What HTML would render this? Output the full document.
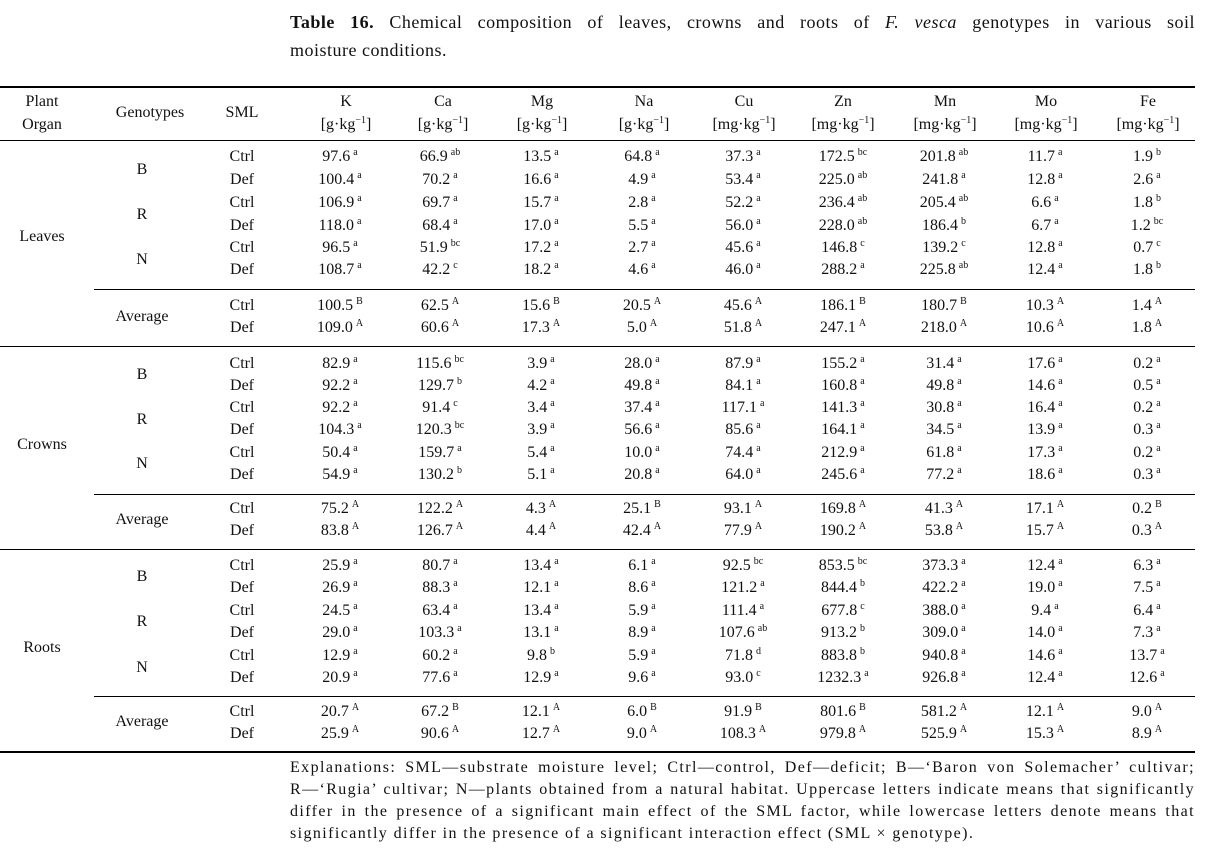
<!DOCTYPE html>
<html><head><meta charset="utf-8"><style>
body{margin:0;width:1213px;height:849px;background:#fff;position:relative;overflow:hidden;font-family:"Liberation Serif",serif;color:#111;font-size:16px}
.t{position:absolute;left:290px;width:905px;font-size:18px;letter-spacing:0.5px;line-height:28px;white-space:nowrap}
.j{text-align:justify;text-align-last:justify}
.hl{position:absolute;background:#000;height:1px}
.r{position:absolute;left:0;width:1213px;height:22px;line-height:22px}
.r span{position:absolute;transform:translateX(-50%);white-space:nowrap;top:0}
sup{font-size:10px;line-height:0;vertical-align:6px;margin-left:3px}
.s{left:242px}.k{left:340px}.ca{left:440px}.mg{left:541px}.na{left:642px}.cu{left:743px}.zn{left:843px}.mn{left:944px}.mo{left:1045px}.fe{left:1147px}
.g{left:142px}.o{left:42px}
.ex{position:absolute;left:290px;width:905px;font-size:16px;letter-spacing:1.4px;line-height:22px;white-space:nowrap}
.h{position:absolute;text-align:center;line-height:23px;transform:translateX(-50%);white-space:nowrap}
</style></head><body>
<div class="t j" style="top:8px"><b>Table 16.</b> Chemical composition of leaves, crowns and roots of <i>F. vesca</i> genotypes in various soil</div>
<div class="t" style="top:36px">moisture conditions.</div>

<div class="hl" style="top:86px;left:0;width:1195px;height:2px"></div>
<div class="h" style="left:42px;top:90px">Plant<br>Organ</div>
<div class="h" style="left:150px;top:101px">Genotypes</div>
<div class="h" style="left:242px;top:101px">SML</div>
<div class="h" style="left:346px;top:90px">K<br>[g·kg<sup style="margin:0">−1</sup>]</div>
<div class="h" style="left:443px;top:90px">Ca<br>[g·kg<sup style="margin:0">−1</sup>]</div>
<div class="h" style="left:542px;top:90px">Mg<br>[g·kg<sup style="margin:0">−1</sup>]</div>
<div class="h" style="left:644px;top:90px">Na<br>[g·kg<sup style="margin:0">−1</sup>]</div>
<div class="h" style="left:744px;top:90px">Cu<br>[mg·kg<sup style="margin:0">−1</sup>]</div>
<div class="h" style="left:843px;top:90px">Zn<br>[mg·kg<sup style="margin:0">−1</sup>]</div>
<div class="h" style="left:945px;top:90px">Mn<br>[mg·kg<sup style="margin:0">−1</sup>]</div>
<div class="h" style="left:1046px;top:90px">Mo<br>[mg·kg<sup style="margin:0">−1</sup>]</div>
<div class="h" style="left:1148px;top:90px">Fe<br>[mg·kg<sup style="margin:0">−1</sup>]</div>
<div class="hl" style="top:140px;left:0;width:1195px"></div>

<!-- Leaves -->
<div class="r" style="top:226px"><span class="o">Leaves</span></div>
<div class="r" style="top:159px"><span class="g">B</span></div>
<div class="r" style="top:204px"><span class="g">R</span></div>
<div class="r" style="top:249px"><span class="g">N</span></div>
<div class="r" style="top:146px"><span class="s">Ctrl</span><span class="k">97.6<sup>a</sup></span><span class="ca">66.9<sup>ab</sup></span><span class="mg">13.5<sup>a</sup></span><span class="na">64.8<sup>a</sup></span><span class="cu">37.3<sup>a</sup></span><span class="zn">172.5<sup>bc</sup></span><span class="mn">201.8<sup>ab</sup></span><span class="mo">11.7<sup>a</sup></span><span class="fe">1.9<sup>b</sup></span></div>
<div class="r" style="top:169px"><span class="s">Def</span><span class="k">100.4<sup>a</sup></span><span class="ca">70.2<sup>a</sup></span><span class="mg">16.6<sup>a</sup></span><span class="na">4.9<sup>a</sup></span><span class="cu">53.4<sup>a</sup></span><span class="zn">225.0<sup>ab</sup></span><span class="mn">241.8<sup>a</sup></span><span class="mo">12.8<sup>a</sup></span><span class="fe">2.6<sup>a</sup></span></div>
<div class="r" style="top:192px"><span class="s">Ctrl</span><span class="k">106.9<sup>a</sup></span><span class="ca">69.7<sup>a</sup></span><span class="mg">15.7<sup>a</sup></span><span class="na">2.8<sup>a</sup></span><span class="cu">52.2<sup>a</sup></span><span class="zn">236.4<sup>ab</sup></span><span class="mn">205.4<sup>ab</sup></span><span class="mo">6.6<sup>a</sup></span><span class="fe">1.8<sup>b</sup></span></div>
<div class="r" style="top:215px"><span class="s">Def</span><span class="k">118.0<sup>a</sup></span><span class="ca">68.4<sup>a</sup></span><span class="mg">17.0<sup>a</sup></span><span class="na">5.5<sup>a</sup></span><span class="cu">56.0<sup>a</sup></span><span class="zn">228.0<sup>ab</sup></span><span class="mn">186.4<sup>b</sup></span><span class="mo">6.7<sup>a</sup></span><span class="fe">1.2<sup>bc</sup></span></div>
<div class="r" style="top:237px"><span class="s">Ctrl</span><span class="k">96.5<sup>a</sup></span><span class="ca">51.9<sup>bc</sup></span><span class="mg">17.2<sup>a</sup></span><span class="na">2.7<sup>a</sup></span><span class="cu">45.6<sup>a</sup></span><span class="zn">146.8<sup>c</sup></span><span class="mn">139.2<sup>c</sup></span><span class="mo">12.8<sup>a</sup></span><span class="fe">0.7<sup>c</sup></span></div>
<div class="r" style="top:259px"><span class="s">Def</span><span class="k">108.7<sup>a</sup></span><span class="ca">42.2<sup>c</sup></span><span class="mg">18.2<sup>a</sup></span><span class="na">4.6<sup>a</sup></span><span class="cu">46.0<sup>a</sup></span><span class="zn">288.2<sup>a</sup></span><span class="mn">225.8<sup>ab</sup></span><span class="mo">12.4<sup>a</sup></span><span class="fe">1.8<sup>b</sup></span></div>
<div class="hl" style="top:289px;left:94px;width:1101px"></div>
<div class="r" style="top:306px"><span class="g">Average</span></div>
<div class="r" style="top:295px"><span class="s">Ctrl</span><span class="k">100.5<sup>B</sup></span><span class="ca">62.5<sup>A</sup></span><span class="mg">15.6<sup>B</sup></span><span class="na">20.5<sup>A</sup></span><span class="cu">45.6<sup>A</sup></span><span class="zn">186.1<sup>B</sup></span><span class="mn">180.7<sup>B</sup></span><span class="mo">10.3<sup>A</sup></span><span class="fe">1.4<sup>A</sup></span></div>
<div class="r" style="top:317px"><span class="s">Def</span><span class="k">109.0<sup>A</sup></span><span class="ca">60.6<sup>A</sup></span><span class="mg">17.3<sup>A</sup></span><span class="na">5.0<sup>A</sup></span><span class="cu">51.8<sup>A</sup></span><span class="zn">247.1<sup>A</sup></span><span class="mn">218.0<sup>A</sup></span><span class="mo">10.6<sup>A</sup></span><span class="fe">1.8<sup>A</sup></span></div>
<div class="hl" style="top:346px;left:0;width:1195px"></div>

<!-- Crowns -->
<div class="r" style="top:434px"><span class="o">Crowns</span></div>
<div class="r" style="top:364px"><span class="g">B</span></div>
<div class="r" style="top:409px"><span class="g">R</span></div>
<div class="r" style="top:453px"><span class="g">N</span></div>
<div class="r" style="top:353px"><span class="s">Ctrl</span><span class="k">82.9<sup>a</sup></span><span class="ca">115.6<sup>bc</sup></span><span class="mg">3.9<sup>a</sup></span><span class="na">28.0<sup>a</sup></span><span class="cu">87.9<sup>a</sup></span><span class="zn">155.2<sup>a</sup></span><span class="mn">31.4<sup>a</sup></span><span class="mo">17.6<sup>a</sup></span><span class="fe">0.2<sup>a</sup></span></div>
<div class="r" style="top:375px"><span class="s">Def</span><span class="k">92.2<sup>a</sup></span><span class="ca">129.7<sup>b</sup></span><span class="mg">4.2<sup>a</sup></span><span class="na">49.8<sup>a</sup></span><span class="cu">84.1<sup>a</sup></span><span class="zn">160.8<sup>a</sup></span><span class="mn">49.8<sup>a</sup></span><span class="mo">14.6<sup>a</sup></span><span class="fe">0.5<sup>a</sup></span></div>
<div class="r" style="top:397px"><span class="s">Ctrl</span><span class="k">92.2<sup>a</sup></span><span class="ca">91.4<sup>c</sup></span><span class="mg">3.4<sup>a</sup></span><span class="na">37.4<sup>a</sup></span><span class="cu">117.1<sup>a</sup></span><span class="zn">141.3<sup>a</sup></span><span class="mn">30.8<sup>a</sup></span><span class="mo">16.4<sup>a</sup></span><span class="fe">0.2<sup>a</sup></span></div>
<div class="r" style="top:419px"><span class="s">Def</span><span class="k">104.3<sup>a</sup></span><span class="ca">120.3<sup>bc</sup></span><span class="mg">3.9<sup>a</sup></span><span class="na">56.6<sup>a</sup></span><span class="cu">85.6<sup>a</sup></span><span class="zn">164.1<sup>a</sup></span><span class="mn">34.5<sup>a</sup></span><span class="mo">13.9<sup>a</sup></span><span class="fe">0.3<sup>a</sup></span></div>
<div class="r" style="top:442px"><span class="s">Ctrl</span><span class="k">50.4<sup>a</sup></span><span class="ca">159.7<sup>a</sup></span><span class="mg">5.4<sup>a</sup></span><span class="na">10.0<sup>a</sup></span><span class="cu">74.4<sup>a</sup></span><span class="zn">212.9<sup>a</sup></span><span class="mn">61.8<sup>a</sup></span><span class="mo">17.3<sup>a</sup></span><span class="fe">0.2<sup>a</sup></span></div>
<div class="r" style="top:464px"><span class="s">Def</span><span class="k">54.9<sup>a</sup></span><span class="ca">130.2<sup>b</sup></span><span class="mg">5.1<sup>a</sup></span><span class="na">20.8<sup>a</sup></span><span class="cu">64.0<sup>a</sup></span><span class="zn">245.6<sup>a</sup></span><span class="mn">77.2<sup>a</sup></span><span class="mo">18.6<sup>a</sup></span><span class="fe">0.3<sup>a</sup></span></div>
<div class="hl" style="top:494px;left:94px;width:1101px"></div>
<div class="r" style="top:509px"><span class="g">Average</span></div>
<div class="r" style="top:498px"><span class="s">Ctrl</span><span class="k">75.2<sup>A</sup></span><span class="ca">122.2<sup>A</sup></span><span class="mg">4.3<sup>A</sup></span><span class="na">25.1<sup>B</sup></span><span class="cu">93.1<sup>A</sup></span><span class="zn">169.8<sup>A</sup></span><span class="mn">41.3<sup>A</sup></span><span class="mo">17.1<sup>A</sup></span><span class="fe">0.2<sup>B</sup></span></div>
<div class="r" style="top:520px"><span class="s">Def</span><span class="k">83.8<sup>A</sup></span><span class="ca">126.7<sup>A</sup></span><span class="mg">4.4<sup>A</sup></span><span class="na">42.4<sup>A</sup></span><span class="cu">77.9<sup>A</sup></span><span class="zn">190.2<sup>A</sup></span><span class="mn">53.8<sup>A</sup></span><span class="mo">15.7<sup>A</sup></span><span class="fe">0.3<sup>A</sup></span></div>
<div class="hl" style="top:549px;left:0;width:1195px"></div>

<!-- Roots -->
<div class="r" style="top:637px"><span class="o">Roots</span></div>
<div class="r" style="top:566px"><span class="g">B</span></div>
<div class="r" style="top:611px"><span class="g">R</span></div>
<div class="r" style="top:657px"><span class="g">N</span></div>
<div class="r" style="top:555px"><span class="s">Ctrl</span><span class="k">25.9<sup>a</sup></span><span class="ca">80.7<sup>a</sup></span><span class="mg">13.4<sup>a</sup></span><span class="na">6.1<sup>a</sup></span><span class="cu">92.5<sup>bc</sup></span><span class="zn">853.5<sup>bc</sup></span><span class="mn">373.3<sup>a</sup></span><span class="mo">12.4<sup>a</sup></span><span class="fe">6.3<sup>a</sup></span></div>
<div class="r" style="top:577px"><span class="s">Def</span><span class="k">26.9<sup>a</sup></span><span class="ca">88.3<sup>a</sup></span><span class="mg">12.1<sup>a</sup></span><span class="na">8.6<sup>a</sup></span><span class="cu">121.2<sup>a</sup></span><span class="zn">844.4<sup>b</sup></span><span class="mn">422.2<sup>a</sup></span><span class="mo">19.0<sup>a</sup></span><span class="fe">7.5<sup>a</sup></span></div>
<div class="r" style="top:600px"><span class="s">Ctrl</span><span class="k">24.5<sup>a</sup></span><span class="ca">63.4<sup>a</sup></span><span class="mg">13.4<sup>a</sup></span><span class="na">5.9<sup>a</sup></span><span class="cu">111.4<sup>a</sup></span><span class="zn">677.8<sup>c</sup></span><span class="mn">388.0<sup>a</sup></span><span class="mo">9.4<sup>a</sup></span><span class="fe">6.4<sup>a</sup></span></div>
<div class="r" style="top:622px"><span class="s">Def</span><span class="k">29.0<sup>a</sup></span><span class="ca">103.3<sup>a</sup></span><span class="mg">13.1<sup>a</sup></span><span class="na">8.9<sup>a</sup></span><span class="cu">107.6<sup>ab</sup></span><span class="zn">913.2<sup>b</sup></span><span class="mn">309.0<sup>a</sup></span><span class="mo">14.0<sup>a</sup></span><span class="fe">7.3<sup>a</sup></span></div>
<div class="r" style="top:645px"><span class="s">Ctrl</span><span class="k">12.9<sup>a</sup></span><span class="ca">60.2<sup>a</sup></span><span class="mg">9.8<sup>b</sup></span><span class="na">5.9<sup>a</sup></span><span class="cu">71.8<sup>d</sup></span><span class="zn">883.8<sup>b</sup></span><span class="mn">940.8<sup>a</sup></span><span class="mo">14.6<sup>a</sup></span><span class="fe">13.7<sup>a</sup></span></div>
<div class="r" style="top:667px"><span class="s">Def</span><span class="k">20.9<sup>a</sup></span><span class="ca">77.6<sup>a</sup></span><span class="mg">12.9<sup>a</sup></span><span class="na">9.6<sup>a</sup></span><span class="cu">93.0<sup>c</sup></span><span class="zn">1232.3<sup>a</sup></span><span class="mn">926.8<sup>a</sup></span><span class="mo">12.4<sup>a</sup></span><span class="fe">12.6<sup>a</sup></span></div>
<div class="hl" style="top:696px;left:94px;width:1101px"></div>
<div class="r" style="top:711px"><span class="g">Average</span></div>
<div class="r" style="top:701px"><span class="s">Ctrl</span><span class="k">20.7<sup>A</sup></span><span class="ca">67.2<sup>B</sup></span><span class="mg">12.1<sup>A</sup></span><span class="na">6.0<sup>B</sup></span><span class="cu">91.9<sup>B</sup></span><span class="zn">801.6<sup>B</sup></span><span class="mn">581.2<sup>A</sup></span><span class="mo">12.1<sup>A</sup></span><span class="fe">9.0<sup>A</sup></span></div>
<div class="r" style="top:723px"><span class="s">Def</span><span class="k">25.9<sup>A</sup></span><span class="ca">90.6<sup>A</sup></span><span class="mg">12.7<sup>A</sup></span><span class="na">9.0<sup>A</sup></span><span class="cu">108.3<sup>A</sup></span><span class="zn">979.8<sup>A</sup></span><span class="mn">525.9<sup>A</sup></span><span class="mo">15.3<sup>A</sup></span><span class="fe">8.9<sup>A</sup></span></div>
<div class="hl" style="top:751px;left:0;width:1195px;height:2px"></div>

<div class="ex j" style="top:757px">Explanations: SML—substrate moisture level; Ctrl—control, Def—deficit; B—‘Baron von Solemacher’ cultivar;</div>
<div class="ex j" style="top:779px">R—‘Rugia’ cultivar; N—plants obtained from a natural habitat. Uppercase letters indicate means that significantly</div>
<div class="ex j" style="top:801px">differ in the presence of a significant main effect of the SML factor, while lowercase letters denote means that</div>
<div class="ex" style="top:823px">significantly differ in the presence of a significant interaction effect (SML × genotype).</div>
</body></html>
